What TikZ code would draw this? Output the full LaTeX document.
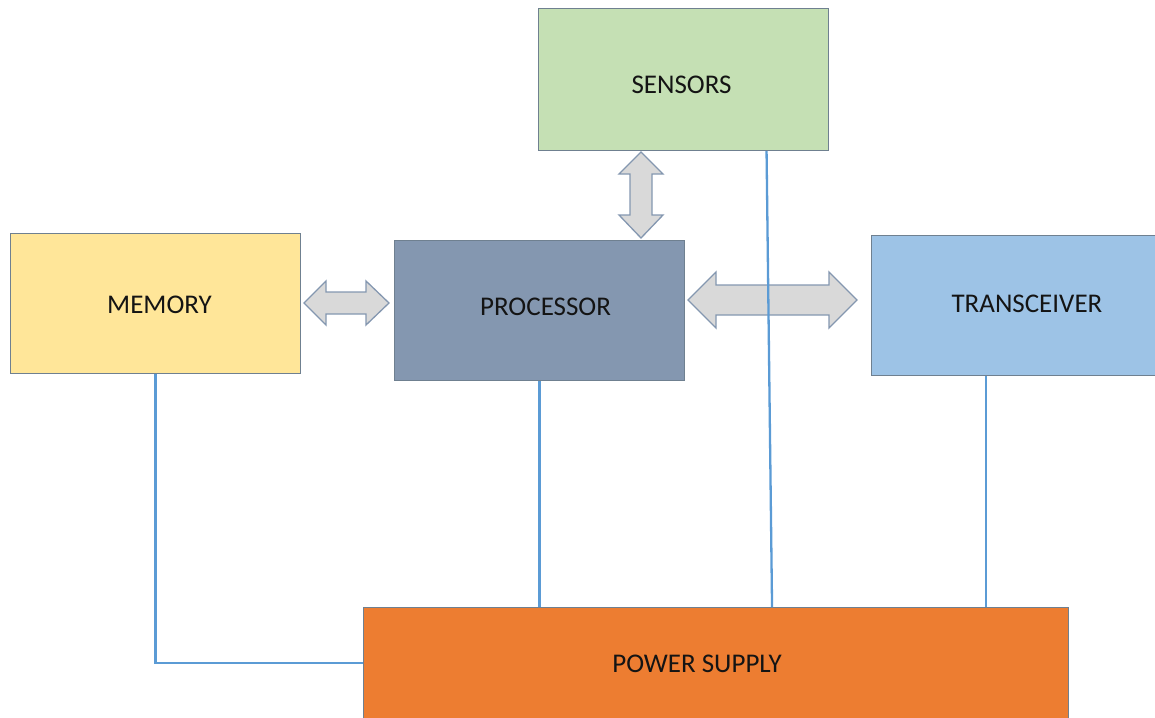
\documentclass[tikz,border=0pt]{standalone}
\usepackage{fontspec}
\setmainfont{Carlito}
\definecolor{edgec}{HTML}{6F8090}
\definecolor{wire}{HTML}{5B9BD5}
\definecolor{senc}{HTML}{C5E0B4}
\definecolor{memc}{HTML}{FFE699}
\definecolor{proc}{HTML}{8497B0}
\definecolor{trxc}{HTML}{9DC3E6}
\definecolor{powc}{HTML}{ED7D31}
\definecolor{arrfill}{HTML}{D9D9D9}
\definecolor{arredge}{HTML}{8497B0}
\begin{document}
\begin{tikzpicture}[x=1pt,y=-1pt,
  blockbox/.style={draw=edgec, line width=1.1pt, inner sep=0pt, anchor=north west,
    font=\fontsize{27}{32}\selectfont, text=black!92, text depth=0pt},
  wireline/.style={draw=wire, line width=2.3pt},
  blockarrow/.style={fill=arrfill, draw=arredge, line width=1.3pt, line join=miter}]
\useasboundingbox (0,0) rectangle (1155,717);
% boxes
\node[blockbox, fill=senc, minimum width=290pt, minimum height=142pt, text height=27pt] (sen) at (538,8) {SENSORS\hspace*{4pt}};
\node[blockbox, fill=memc, minimum width=290pt, minimum height=140pt, text height=20pt] (mem) at (10,233) {\hspace*{8pt}MEMORY};
\node[blockbox, fill=proc, minimum width=290pt, minimum height=140pt, text height=10pt] (pro) at (394,240) {\hspace*{12pt}PROCESSOR};
\node[blockbox, fill=trxc, minimum width=310pt, minimum height=140pt, text height=13pt, text width=310pt, align=left] (trx) at (871,235) {\hspace*{80pt}TRANSCEIVER};
\node[blockbox, fill=powc, minimum width=705pt, minimum height=112pt, text height=18pt] (pow) at (363,607) {POWER SUPPLY\hspace*{38pt}};
% block arrows
\draw[blockarrow] (304,303) -- (326,281) -- (326,292) -- (366,292) -- (366,281) -- (389,303)
  -- (366,325) -- (366,314) -- (326,314) -- (326,325) -- cycle;
\draw[blockarrow] (641,152) -- (663,174) -- (652,174) -- (652,215) -- (663,215) -- (641,238)
  -- (619,215) -- (630,215) -- (630,174) -- (619,174) -- cycle;
\draw[blockarrow] (688,300) -- (716,272) -- (716,285) -- (829,285) -- (829,272) -- (857,300)
  -- (829,328) -- (829,315) -- (716,315) -- (716,328) -- cycle;
% wires
\draw[wireline] (mem.south) -- (mem.south |- 0,663) -- (pow.west |- 0,663);
\draw[wireline] (pro.south) -- (pro.south |- pow.north);
\draw[wireline] ([xshift=83pt]sen.south) -- ([xshift=56pt]pow.north);
\draw[wireline] ([xshift=115pt]trx.south west) -- ([xshift=115pt]trx.south west |- pow.north);
\end{tikzpicture}
\end{document}
